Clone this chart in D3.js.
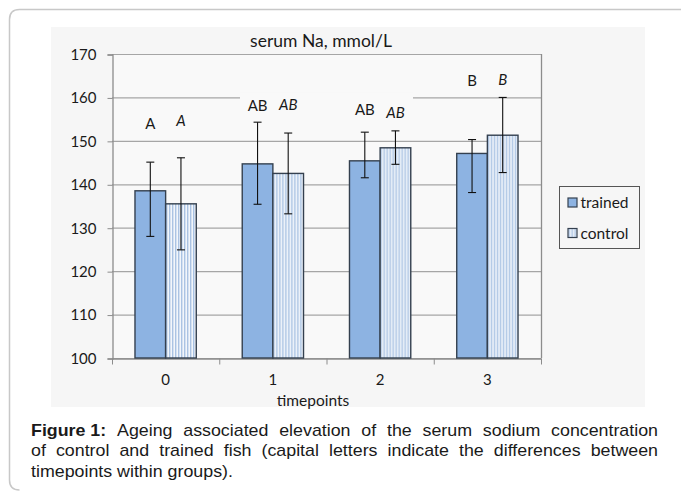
<!DOCTYPE html>
<html><head><meta charset="utf-8">
<script src="https://cdn.jsdelivr.net/npm/d3@7"></script>
<style>
html,body{margin:0;padding:0;background:#fff;}
svg{display:block;}
</style></head>
<body>
<svg id="c" width="681" height="492"></svg>
<script>
const categories = ["0","1","2","3"];
const series = ["trained","control"];
const trained   = [138.5, 144.7, 145.4, 147.1];
const control   = [135.5, 142.5, 148.4, 151.3];
const trainedHi = [145.1, 154.3, 152.0, 150.3];
const trainedLo = [128.0, 135.4, 141.5, 138.1];
const controlHi = [146.1, 151.8, 152.3, 160.0];
const controlLo = [124.9, 133.2, 144.6, 142.7];
const trainedLetters = ["A","AB","AB","B"];
const controlLetters = ["A","AB","AB","B"];
const trainedLetterAt = [153.9, 158.1, 157.1, 163.8];
const controlLetterAt = [154.6, 158.3, 156.5, 164.1];
const yTicks = [100,110,120,130,140,150,160,170];
const title = "serum Na, mmol/L";
const xTitle = "timepoints";
const captionLines = [
  ["Figure 1:", "Ageing associated elevation of the serum sodium concentration"],
  ["", "of control and trained fish (capital letters indicate the differences between"],
  ["", "timepoints within groups)."]
];

const svg = d3.select("#c");
const defs = svg.append("defs");
const pat = defs.append("pattern").attr("id","stripes").attr("patternUnits","userSpaceOnUse")
  .attr("width",3).attr("height",10);
pat.append("rect").attr("width",3).attr("height",10).attr("fill","#f2f6fb");
pat.append("rect").attr("width",1.4).attr("height",10).attr("fill","#aac3e3");

// card border
svg.append("path")
  .attr("d","M9.5,480 L9.5,19.5 Q9.5,9.5 19.5,9.5 L700,9.5")
  .attr("fill","none").attr("stroke","#c8c8c8").attr("stroke-width",1.5);
svg.append("path")
  .attr("d","M9.5,480 Q9.5,490 19.5,490")
  .attr("fill","none").attr("stroke","#c8c8c8").attr("stroke-width",1.5);

// chart background
svg.append("rect").attr("x",51).attr("y",27).attr("width",594).attr("height",380).attr("fill","#f6f6f6");

const x0 = d3.scaleBand().domain(categories).range([112,541]).padding(0);
const x1 = d3.scaleBand().domain(series).range([0,x0.bandwidth()]).paddingInner(0).paddingOuter(0.75);
const y = d3.scaleLinear().domain([100,170]).range([358,54]);

const font = "Lato, 'Open Sans', sans-serif";

// plot area
svg.append("rect").attr("x",112).attr("y",y(170)).attr("width",429).attr("height",y(100)-y(170)).attr("fill","#f9f9f9");

// gridlines
svg.append("g").selectAll("line").data(yTicks).join("line")
  .attr("x1",112).attr("x2",541).attr("y1",d=>y(d)+0.5).attr("y2",d=>y(d)+0.5)
  .attr("stroke","#a6a6a6").attr("stroke-width",1.2);
// right border
svg.append("line").attr("x1",541.5).attr("x2",541.5).attr("y1",y(170)).attr("y2",y(100))
  .attr("stroke","#8c8c8c").attr("stroke-width",1.3);

// label background that hides part of the 160 gridline
svg.append("rect").attr("x",240).attr("y",y(160)-5).attr("width",173).attr("height",10).attr("fill","#f9f9f9");

// y axis
const yAxis = svg.append("g").attr("transform","translate(112.5,0.5)")
  .call(d3.axisLeft(y).tickValues(yTicks).tickSize(5).tickPadding(11).tickFormat(d3.format("d")));
yAxis.select(".domain").attr("stroke","#8c8c8c").attr("stroke-width",1.3);
yAxis.selectAll(".tick line").attr("stroke","#8c8c8c");
yAxis.selectAll(".tick text").attr("font-family",font).attr("font-size",15).attr("fill","#1a1a1a");

// x axis
const xAxis = svg.append("g").attr("transform","translate(0,358.5)")
  .call(d3.axisBottom(x0).tickSize(0).tickPadding(16));
xAxis.select(".domain").attr("stroke","#8c8c8c").attr("stroke-width",1.3);
xAxis.selectAll(".tick text").attr("font-family",font).attr("font-size",15).attr("fill","#1a1a1a");
const bounds = categories.map(c=>x0(c)).concat([x0.range()[1]]);
xAxis.selectAll("line.b").data(bounds).join("line").attr("class","b")
  .attr("x1",d=>d+0.5).attr("x2",d=>d+0.5).attr("y1",0).attr("y2",6)
  .attr("stroke","#8c8c8c");

// bars
const rows = categories.map((c,i)=>({c,i,vals:[
  {s:"trained",v:trained[i],hi:trainedHi[i],lo:trainedLo[i],lab:trainedLetters[i],la:trainedLetterAt[i]},
  {s:"control",v:control[i],hi:controlHi[i],lo:controlLo[i],lab:controlLetters[i],la:controlLetterAt[i]}
]}));
const g = svg.append("g").selectAll("g").data(rows).join("g")
  .attr("transform",d=>`translate(${x0(d.c)},0)`);
g.selectAll("rect").data(d=>d.vals).join("rect")
  .attr("x",d=>x1(d.s)).attr("width",x1.bandwidth())
  .attr("y",d=>y(d.v)).attr("height",d=>y(100)-y(d.v))
  .attr("fill",d=>d.s==="trained"?"#8db3e2":"url(#stripes)")
  .attr("stroke","#34404f").attr("stroke-width",1.4);
// error bars
const eb = g.selectAll("g.eb").data(d=>d.vals).join("g").attr("class","eb")
  .attr("transform",d=>`translate(${x1(d.s)+x1.bandwidth()/2},0)`);
eb.append("line").attr("x1",0).attr("x2",0).attr("y1",d=>y(d.hi)).attr("y2",d=>y(d.lo))
  .attr("stroke","#111").attr("stroke-width",1.1);
eb.append("line").attr("x1",-4).attr("x2",4).attr("y1",d=>y(d.hi)).attr("y2",d=>y(d.hi))
  .attr("stroke","#111").attr("stroke-width",1.1);
eb.append("line").attr("x1",-4).attr("x2",4).attr("y1",d=>y(d.lo)).attr("y2",d=>y(d.lo))
  .attr("stroke","#111").attr("stroke-width",1.1);
// letters
eb.append("text").attr("x",0).attr("y",d=>y(d.la)).attr("dy","0.36em")
  .attr("text-anchor","middle").attr("font-family",font).attr("font-size",15)
  .attr("font-style",d=>d.s==="control"?"italic":"normal").attr("fill","#1a1a1a")
  .text(d=>d.lab);

// title
svg.append("text").attr("x",321).attr("y",47).attr("text-anchor","middle")
  .attr("font-family",font).attr("font-size",17.5).attr("fill","#1a1a1a").text(title);
svg.append("text").attr("x",313).attr("y",406).attr("text-anchor","middle")
  .attr("font-family",font).attr("font-size",15.5).attr("fill","#1a1a1a").text(xTitle);

// legend
const lg = svg.append("g").attr("transform","translate(559.5,186.5)");
lg.append("rect").attr("width",80).attr("height",62).attr("fill","#f6f6f6").attr("stroke","#555").attr("stroke-width",1);
series.forEach((s,i)=>{
  const yy = 16 + i*30.5;
  lg.append("rect").attr("x",8.5).attr("y",yy-4.5).attr("width",9).attr("height",9)
    .attr("fill",s==="trained"?"#8db3e2":"url(#stripes)").attr("stroke","#34404f").attr("stroke-width",1.2);
  lg.append("text").attr("x",21).attr("y",yy).attr("dy","0.36em")
    .attr("font-family",font).attr("font-size",15.5).attr("fill","#1a1a1a").text(s);
});

// caption (justified)
const capScale = 1.1, capLeft = 31, capWidth = 627;
const cap = svg.append("g").attr("transform",`translate(${capLeft},0) scale(${capScale},1)`);
const baselines = [436, 456.5, 477];
captionLines.forEach((ln,li)=>{
  const words = [];
  if (ln[0]) words.push({t:ln[0],b:true});
  ln[1].split(" ").forEach(w=>words.push({t:w,b:false}));
  const nodes = words.map(w=>cap.append("text").attr("y",baselines[li])
    .attr("font-family","'Liberation Sans', Arial, sans-serif").attr("font-size",16.2)
    .attr("font-weight",w.b?"bold":"normal").attr("fill","#1a1a1a").text(w.t));
  const widths = nodes.map(n=>n.node().getComputedTextLength());
  const total = d3.sum(widths);
  const justify = li < captionLines.length-1;
  const gap = justify ? (capWidth/capScale - total)/(words.length-1) : 4.5;
  let xx = 0;
  nodes.forEach((n,k)=>{ n.attr("x",xx); xx += widths[k] + gap; });
});
</script>
</body></html>
